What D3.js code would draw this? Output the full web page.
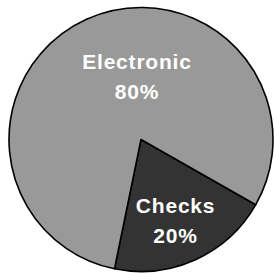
<!DOCTYPE html>
<html>
<head>
<meta charset="utf-8">
<script src="https://cdn.jsdelivr.net/npm/d3@7"></script>
<style>
  html, body { margin: 0; padding: 0; background: #fff; }
  svg { display: block; }
</style>
</head>
<body>
<script>
// data
const categories = ['Checks', 'Electronic'];
const values = [20, 80];
const percentLabels = ['20%', '80%'];
const colors = ['#333333', '#999999'];

// svg parameters
const svgWidth = 274;
const svgHeight = 273;
const cx = 141;
const cy = 139.5;
const radius = 132;

// where Excel put each label block (angle in degrees clockwise from 12, distance from centre)
const labelPlacement = [
    {angle: 157.1, dist: 88.8},
    {angle: 356.3, dist: 62.6}
];

const svg = d3.select('body')
.append('svg')
.attr('width', svgWidth)
.attr('height', svgHeight);

const pie = d3.pie()
.sort(null)
.startAngle(119.6 * Math.PI / 180)
.endAngle(119.6 * Math.PI / 180 + 2 * Math.PI);

const arcs = pie(values);

const arc = d3.arc()
.innerRadius(0)
.outerRadius(radius);

const g = svg.append('g')
.attr('transform', `translate(${cx}, ${cy})`);

g.selectAll('path')
.data(arcs)
.enter()
.append('path')
.attr('d', arc)
.attr('fill', (d, i) => colors[i])
.attr('stroke', '#000')
.attr('stroke-width', 1.6)
.attr('stroke-linejoin', 'round');

// labels
const labels = g.selectAll('text')
.data(arcs)
.enter()
.append('text')
.attr('transform', (d, i) => {
    const a = labelPlacement[i].angle * Math.PI / 180;
    const r = labelPlacement[i].dist;
    return `translate(${r * Math.sin(a)}, ${-r * Math.cos(a)})`;
})
.attr('text-anchor', 'middle')
.attr('font-family', '"Liberation Sans", Arial, sans-serif')
.attr('font-weight', 'bold')
.attr('font-size', '21px')
.attr('letter-spacing', '0.8px')
.attr('fill', '#fff');

labels.append('tspan')
.attr('x', 0)
.attr('y', -8)
.text((d, i) => categories[i]);

labels.append('tspan')
.attr('x', 0)
.attr('y', 22)
.text((d, i) => percentLabels[i]);
</script>
</body>
</html>
